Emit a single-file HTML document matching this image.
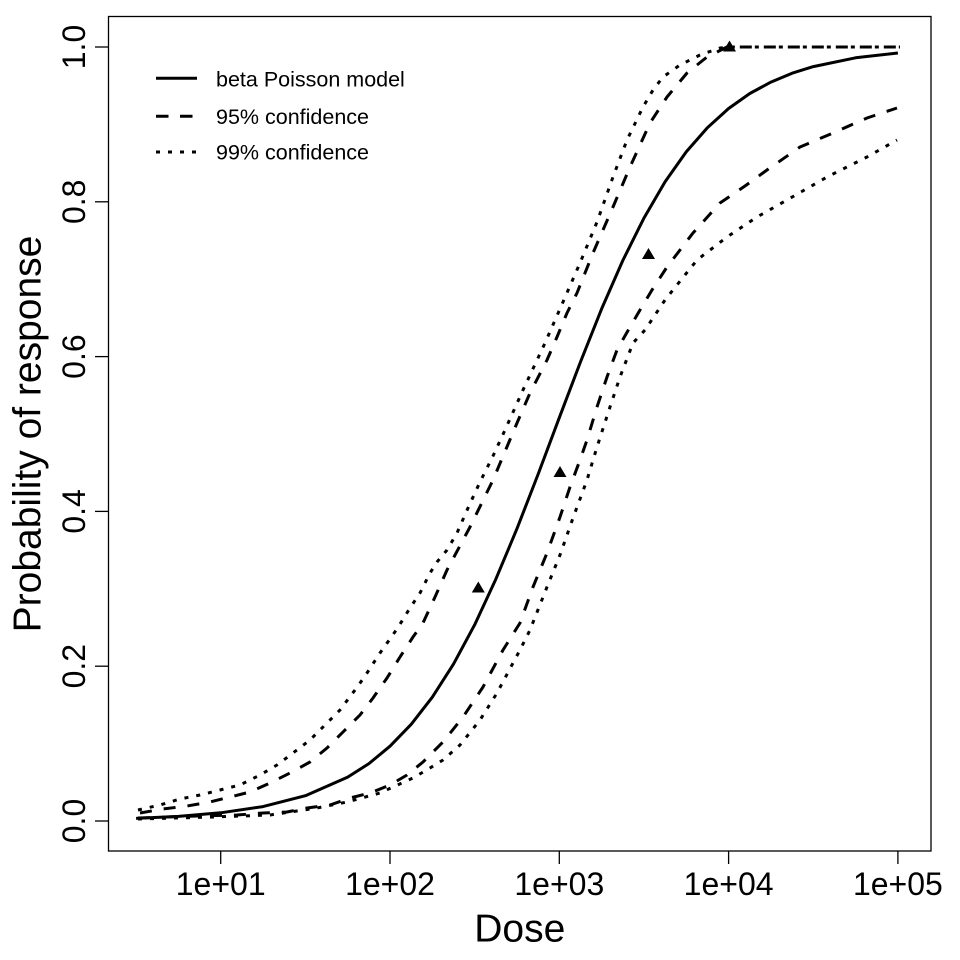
<!DOCTYPE html>
<html>
<head>
<meta charset="utf-8">
<style>
  html, body { margin: 0; padding: 0; background: #ffffff; }
  svg { display: block; }
  text { font-family: "Liberation Sans", Arial, sans-serif; fill: #000; }
</style>
</head>
<body>
<svg width="960" height="960" viewBox="0 0 960 960" xmlns="http://www.w3.org/2000/svg">
  <rect x="0" y="0" width="960" height="960" fill="#ffffff"/>

  <!-- plot box -->
  <rect x="108.5" y="16.5" width="822.5" height="834.5" fill="none" stroke="#000" stroke-width="1.3"/>

  <!-- y ticks -->
  <g stroke="#000" stroke-width="1.3">
    <line x1="95" y1="821" x2="108.5" y2="821"/>
    <line x1="95" y1="666.2" x2="108.5" y2="666.2"/>
    <line x1="95" y1="511.4" x2="108.5" y2="511.4"/>
    <line x1="95" y1="356.6" x2="108.5" y2="356.6"/>
    <line x1="95" y1="201.8" x2="108.5" y2="201.8"/>
    <line x1="95" y1="47" x2="108.5" y2="47"/>
  </g>
  <g font-size="32" text-anchor="middle">
    <text transform="translate(85,821) rotate(-90)">0.0</text>
    <text transform="translate(85,666.2) rotate(-90)">0.2</text>
    <text transform="translate(85,511.4) rotate(-90)">0.4</text>
    <text transform="translate(85,356.6) rotate(-90)">0.6</text>
    <text transform="translate(85,201.8) rotate(-90)">0.8</text>
    <text transform="translate(85,47) rotate(-90)">1.0</text>
  </g>

  <!-- x ticks -->
  <g stroke="#000" stroke-width="1.3">
    <line x1="220.7" y1="851" x2="220.7" y2="864"/>
    <line x1="390" y1="851" x2="390" y2="864"/>
    <line x1="559.3" y1="851" x2="559.3" y2="864"/>
    <line x1="728.6" y1="851" x2="728.6" y2="864"/>
    <line x1="897.9" y1="851" x2="897.9" y2="864"/>
  </g>
  <g font-size="32" text-anchor="middle">
    <text x="220.7" y="895">1e+01</text>
    <text x="390" y="895">1e+02</text>
    <text x="559.3" y="895">1e+03</text>
    <text x="728.6" y="895">1e+04</text>
    <text x="897.9" y="895">1e+05</text>
  </g>

  <!-- axis titles -->
  <text x="519.75" y="941.5" font-size="39" text-anchor="middle">Dose</text>
  <text transform="translate(40.7,434) rotate(-90)" font-size="39" text-anchor="middle">Probability of response</text>

  <!-- curves -->
  <g fill="none" stroke="#000" stroke-width="3" stroke-linejoin="round">
    <!-- beta Poisson model -->
    <polyline points="136.1,818.4 178.4,816.4 220.7,812.8 263.0,806.6 305.4,795.7 347.7,777.1 368.9,763.6 390.0,746.2 411.2,724.3 432.3,697.2 453.5,664.1 474.7,624.7 495.8,579.2 517.0,528.6 538.2,474.0 559.3,417.7 580.5,361.9 601.6,308.9 622.8,260.5 644.0,218.0 665.1,181.8 686.3,151.8 707.4,127.7 728.6,108.5 749.8,93.5 770.9,82.1 792.1,73.2 813.3,66.6 855.6,57.8 897.9,53.0"/>

    <!-- upper 99% (dotted) -->
    <polyline stroke-dasharray="4 8" points="138,810 160,805 180,799 200,795 220,790 240,785 260,775 277,765 293,753 310,740 327,723 340,710 358,686 367,673 380,653 397,629 410,608 420,593 430,573 437,562 447,550 457,533 468,508 480,482 493,456 505,430 523,390 545,343 563,302 580,263 597,222 613,177 627,140 643,107 653,90 663,77 680,65 700,55 720,48 731,47 900,47"/>

    <!-- upper 95% (dashed) -->
    <polyline stroke-dasharray="12 12" points="140,813 163,809 187,806 210,802 230,797 250,792 270,783 290,773 310,762 327,748 343,732 360,715 373,698 387,678 400,657 413,637 423,623 435,597 447,570 470,527 493,480 517,423 530,393 547,360 557,337 567,313 577,293 593,253 613,207 630,167 650,123 667,97 687,73 707,57 727,47 900,47"/>

    <!-- lower 95% (dashed) -->
    <polyline stroke-dasharray="12 12" points="138,818 197,816 237,815 263,813 287,812 307,808 330,805 350,798 370,793 390,785 407,775 423,762 443,742 463,717 483,687 503,650 520,623 533,587 547,553 560,517 570,487 580,460 587,440 597,407 607,377 617,350 630,327 640,310 652,290 667,267 693,233 720,203 745,186 767,170 800,147 833,133 867,118 897,108"/>

    <!-- lower 99% (dotted) -->
    <polyline stroke-dasharray="4 8" points="138,819 213,817 270,815 317,808 347,802 380,793 393,787 413,778 430,768 443,760 460,745 480,720 497,693 513,663 520,650 530,630 547,587 560,555 573,518 587,480 597,447 610,407 620,377 633,343 645,330 665,300 697,260 727,237 757,217 787,200 827,177 867,157 897,140"/>
  </g>

  <!-- observed data (filled triangles) -->
  <g fill="#000">
    <polygon points="478.3,581.5 484.8,592.5 471.8,592.5"/>
    <polygon points="560,466 566.5,477 553.5,477"/>
    <polygon points="648.5,248 655,259 642,259"/>
    <polygon points="729.5,40.5 736,51.5 723,51.5"/>
  </g>

  <!-- legend -->
  <g fill="none" stroke="#000" stroke-width="3">
    <line x1="156" y1="78.3" x2="197" y2="78.3"/>
    <line x1="156" y1="116.3" x2="197" y2="116.3" stroke-dasharray="12.5 11.5"/>
    <line x1="156" y1="152" x2="197" y2="152" stroke-dasharray="4 8"/>
  </g>
  <g font-size="21.5">
    <text x="216" y="86.3">beta Poisson model</text>
    <text x="216" y="124">95% confidence</text>
    <text x="216" y="159.7">99% confidence</text>
  </g>
</svg>
</body>
</html>
